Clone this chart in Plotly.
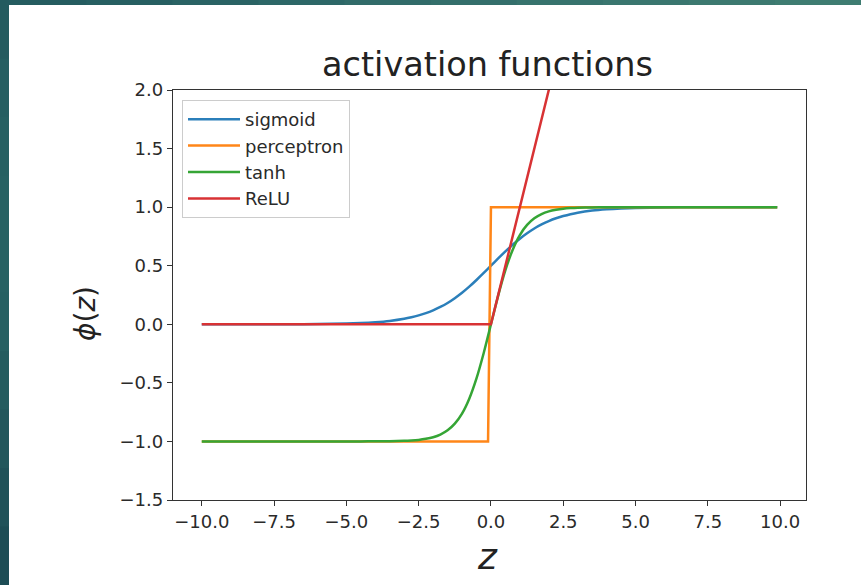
import plotly.graph_objects as go

# ---- data ----
z = [-10, -9, -8, -7, -6, -5, -4.5, -4, -3.5, -3, -2.75, -2.5, -2.25, -2, -1.75, -1.5,
     -1.25, -1, -0.75, -0.5, -0.25, 0, 0.25, 0.5, 0.75, 1, 1.25, 1.5, 1.75, 2, 2.25,
     2.5, 2.75, 3, 3.5, 4, 4.5, 5, 6, 7, 8, 9, 9.9]
sigmoid = [0.000, 0.000, 0.000, 0.001, 0.002, 0.007, 0.011, 0.018, 0.029, 0.047, 0.060,
           0.076, 0.095, 0.119, 0.148, 0.182, 0.223, 0.269, 0.321, 0.378, 0.438, 0.500,
           0.562, 0.622, 0.679, 0.731, 0.777, 0.818, 0.852, 0.881, 0.905, 0.924, 0.940,
           0.953, 0.971, 0.982, 0.989, 0.993, 0.998, 0.999, 1.000, 1.000, 1.000]
tanh = [-1.000, -1.000, -1.000, -1.000, -1.000, -1.000, -1.000, -0.999, -0.998, -0.995,
        -0.992, -0.987, -0.978, -0.964, -0.941, -0.905, -0.848, -0.762, -0.635, -0.462,
        -0.245, 0.000, 0.245, 0.462, 0.635, 0.762, 0.848, 0.905, 0.941, 0.964, 0.978,
        0.987, 0.992, 0.995, 0.998, 0.999, 1.000, 1.000, 1.000, 1.000, 1.000, 1.000, 1.000]
perc_z = [-10, -0.1, 0, 9.9]
perc_y = [-1, -1, 1, 1]
relu_z = [-10, 0, 9.9]
relu_y = [0, 0, 9.9]

x_ticks = [-10.0, -7.5, -5.0, -2.5, 0.0, 2.5, 5.0, 7.5, 10.0]
x_ticktext = ["\u221210.0", "\u22127.5", "\u22125.0", "\u22122.5", "0.0", "2.5", "5.0", "7.5", "10.0"]
y_ticks = [-1.5, -1.0, -0.5, 0.0, 0.5, 1.0, 1.5, 2.0]
y_ticktext = ["\u22121.5", "\u22121.0", "\u22120.5", "0.0", "0.5", "1.0", "1.5", "2.0"]

title_text = "activation functions"
xlabel = "<i>z</i>"
ylabel = "<i>\u03d5</i>(<i>z</i>)"

# ---- figure ----
W, H = 861, 585
L, R, T, B = 173, 55, 90, 85
PW, PH = W - L - R, H - T - B
FONT = "DejaVu Sans"

def px(xp):
    return (xp - L) / PW

def py(yp):
    return (H - B - yp) / PH

fig = go.Figure()
line_w = 2.5
fig.add_trace(go.Scatter(x=z, y=sigmoid, name="sigmoid", mode="lines",
                         line=dict(color="#2b7fba", width=line_w, shape="spline", smoothing=0.6)))
fig.add_trace(go.Scatter(x=perc_z, y=perc_y, name="perceptron", mode="lines",
                         line=dict(color="#ff8618", width=line_w)))
fig.add_trace(go.Scatter(x=z, y=tanh, name="tanh", mode="lines",
                         line=dict(color="#35a535", width=line_w, shape="spline", smoothing=0.6)))
fig.add_trace(go.Scatter(x=relu_z, y=relu_y, name="ReLU", mode="lines",
                         line=dict(color="#d83234", width=line_w)))

axis_common = dict(showgrid=False, zeroline=False, showline=True, mirror=True,
                   linecolor="#333333", linewidth=1.3, ticks="outside", ticklen=5,
                   tickwidth=1.2, tickcolor="#333333",
                   tickfont=dict(family=FONT, size=18, color="#2a2a2a"))

fig.update_xaxes(range=[-10.995, 10.895], tickvals=x_ticks, ticktext=x_ticktext, **axis_common)
fig.update_yaxes(range=[-1.5, 2.0], tickvals=y_ticks, ticktext=y_ticktext, **axis_common)

shapes = []
# teal frame (top band with horizontal gradient, left band with vertical gradient)
top_cols = ["#255c60", "#275f62", "#2a6364", "#2d6767", "#316b69", "#346f6b",
            "#37736d", "#3a766f", "#3c7970", "#3e7c71"]
n = len(top_cols)
for i, c in enumerate(top_cols):
    shapes.append(dict(type="rect", xref="paper", yref="paper",
                       x0=px(W * i / n), x1=px(W * (i + 1) / n + 1),
                       y0=py(5), y1=py(0), fillcolor=c, line=dict(width=0), layer="above"))
left_cols = ["#245b5f", "#255e61", "#266062", "#276163", "#276163", "#266062",
             "#245c5f", "#22575c", "#205259", "#1d4d55"]
n = len(left_cols)
for i, c in enumerate(left_cols):
    shapes.append(dict(type="rect", xref="paper", yref="paper",
                       x0=px(0), x1=px(9),
                       y0=py(H * (i + 1) / n + 1), y1=py(H * i / n),
                       fillcolor=c, line=dict(width=0), layer="above"))

annotations = [
    dict(text=title_text, x=px(487), y=py(65), xref="paper", yref="paper",
         showarrow=False, xanchor="center", yanchor="middle",
         font=dict(family=FONT, size=33.5, color="#222222")),
    dict(text=xlabel, x=px(487), y=py(556), xref="paper", yref="paper",
         showarrow=False, xanchor="center", yanchor="middle",
         font=dict(family=FONT, size=36, color="#222222")),
    dict(text=ylabel, x=px(85), y=py(314), xref="paper", yref="paper",
         showarrow=False, xanchor="center", yanchor="middle", textangle=-90,
         font=dict(family=FONT, size=28, color="#222222")),
]

fig.update_layout(
    width=W, height=H,
    margin=dict(l=L, r=R, t=T, b=B, autoexpand=False),
    paper_bgcolor="white", plot_bgcolor="white",
    showlegend=True,
    legend=dict(x=px(182), y=py(100), xanchor="left", yanchor="top",
                bgcolor="white", bordercolor="#cccccc", borderwidth=1,
                font=dict(family=FONT, size=18, color="#2a2a2a"),
                itemwidth=52, tracegroupgap=0),
    shapes=shapes,
    annotations=annotations,
)

fig.write_html("out.html")
